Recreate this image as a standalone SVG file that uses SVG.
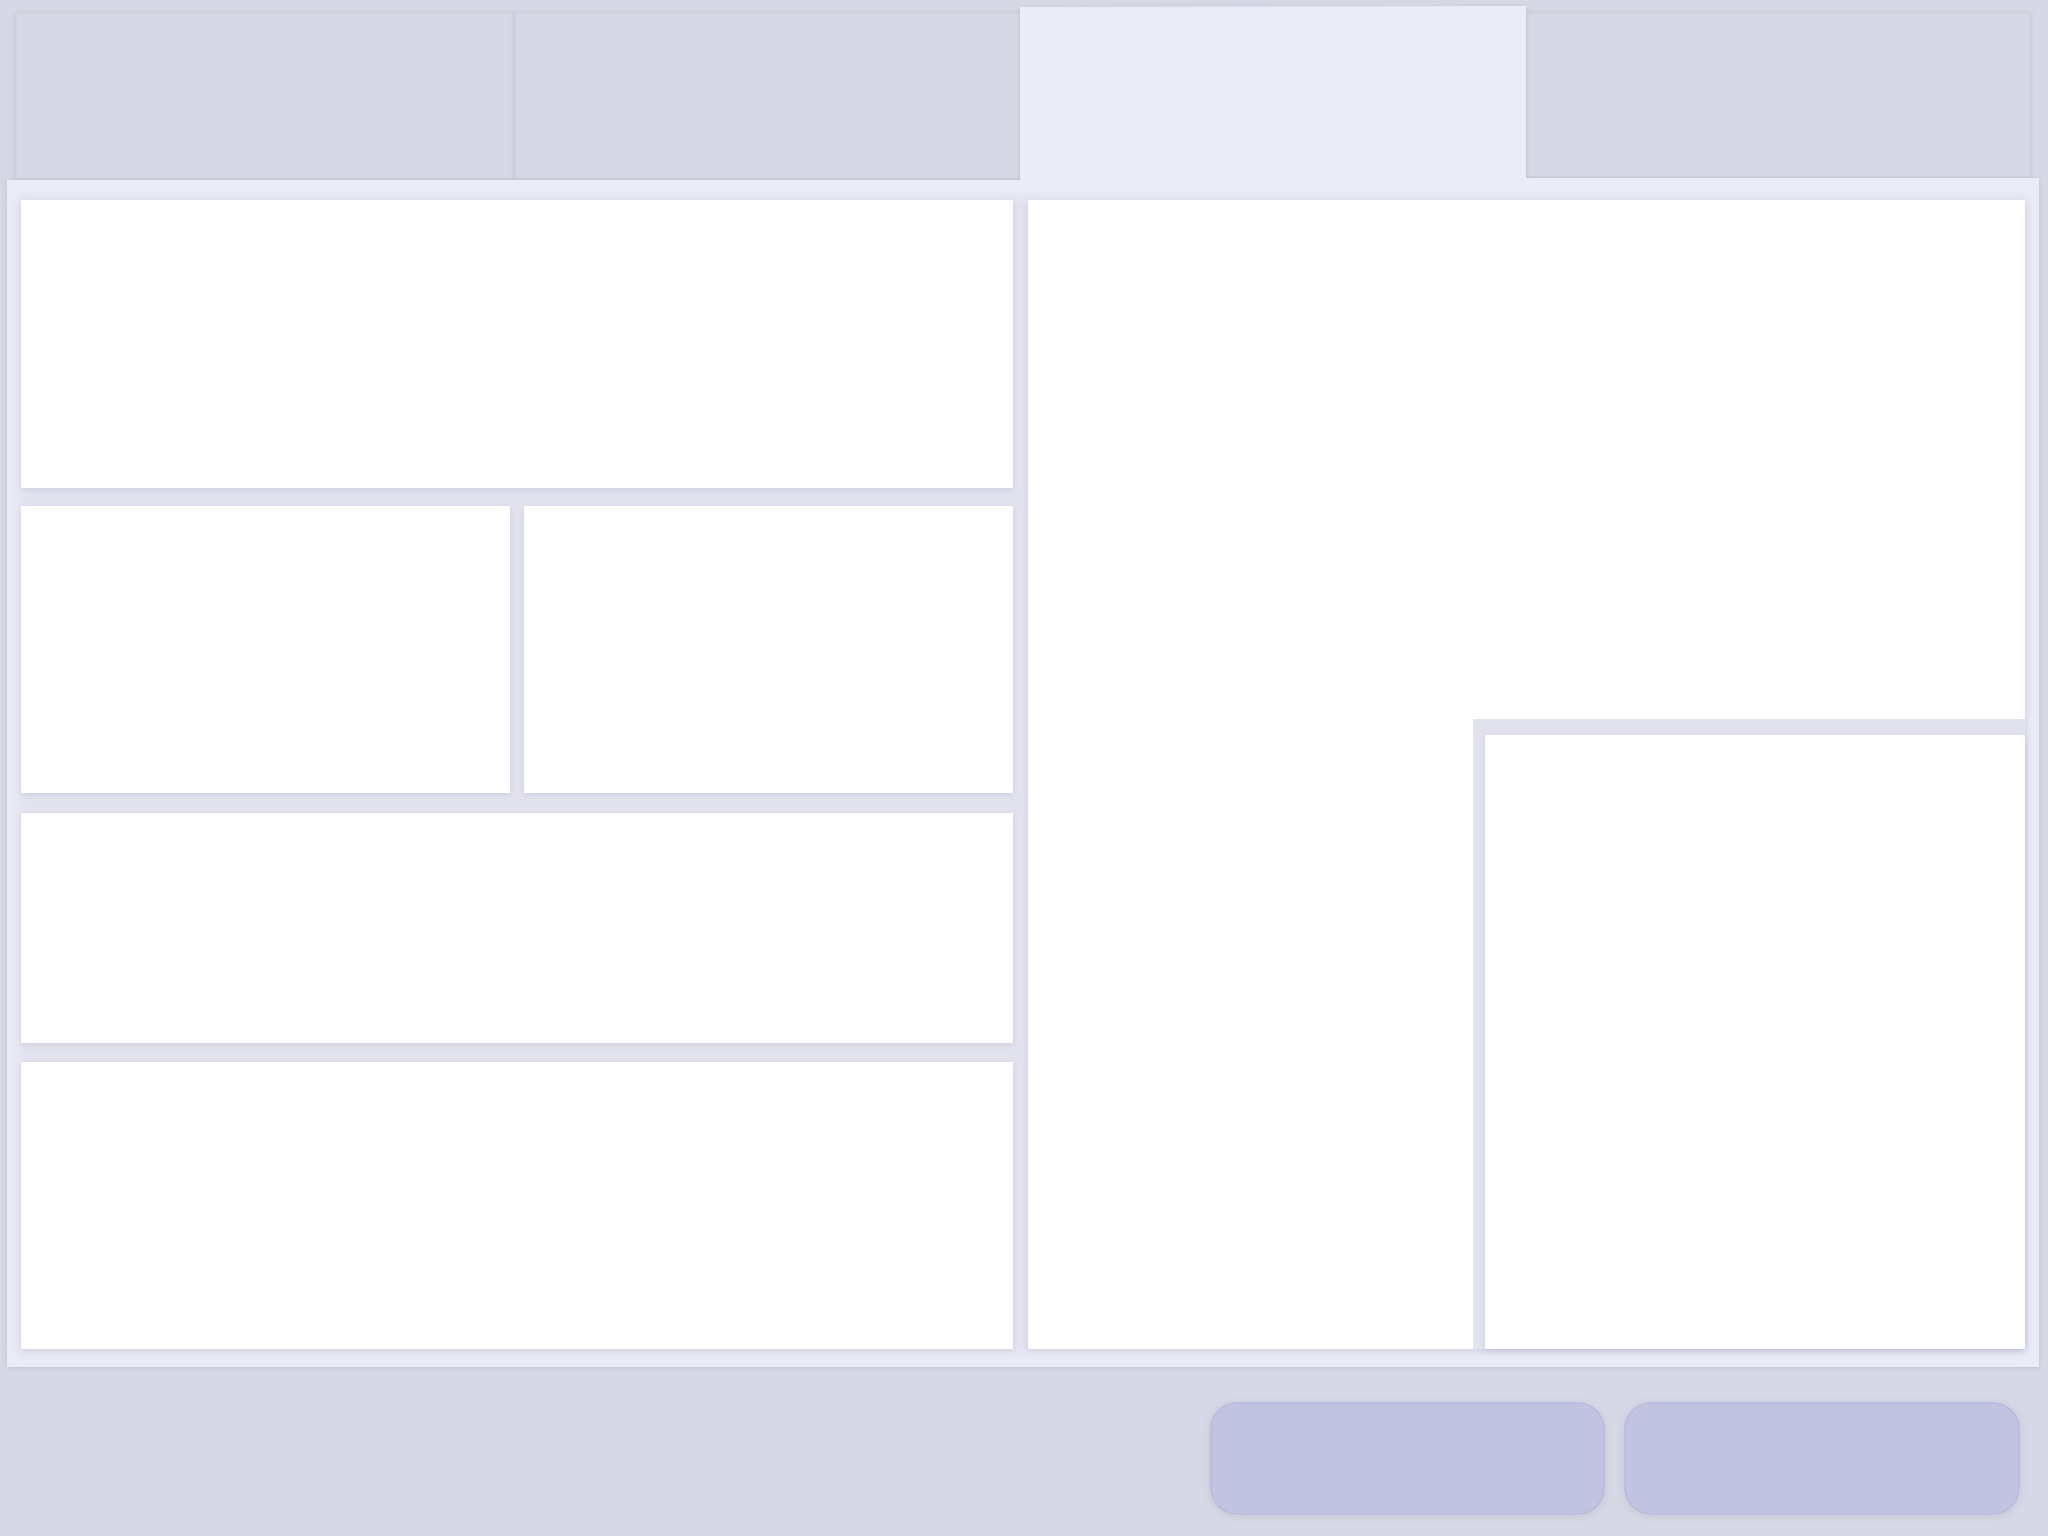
<svg xmlns="http://www.w3.org/2000/svg" width="2048" height="1536" viewBox="0 0 2048 1536">
  <defs>
    <filter id="soft" x="-5%" y="-5%" width="110%" height="110%">
      <feDropShadow dx="0" dy="1.5" stdDeviation="3" flood-color="#9a9cc0" flood-opacity="0.35"/>
    </filter>
    <filter id="tabsh" x="-5%" y="-10%" width="110%" height="120%">
      <feDropShadow dx="0" dy="1" stdDeviation="2.5" flood-color="#8f91aa" flood-opacity="0.35"/>
    </filter>
    <filter id="btnsh" x="-10%" y="-20%" width="120%" height="140%">
      <feDropShadow dx="0" dy="1" stdDeviation="4" flood-color="#9a9cb8" flood-opacity="0.35"/>
    </filter>
    <filter id="blur" x="-2%" y="-2%" width="104%" height="104%">
      <feGaussianBlur stdDeviation="6"/>
    </filter>
  </defs>
  <style>
    .tab { fill: #d6d8e5; stroke: #cfd1de; stroke-width: 1.5; }
    .panel { fill: #ebecf8; }
    .cell { fill: #ffffff; }
    .nest { fill: #e3e3ef; }
    .btn { fill: #c0c3e2; stroke: #b8bbda; stroke-width: 1.5; }
  </style>
  <rect x="0" y="0" width="2048" height="1536" fill="#d6d8e5"/>

  <g id="tabs">
    <rect id="tab1" class="tab" x="16" y="13" width="499" height="166" filter="url(#tabsh)"/>
    <rect id="tab2" class="tab" x="515" y="13" width="505" height="166" filter="url(#tabsh)"/>
    <rect id="tab4" class="tab" x="1526" y="13" width="504" height="164" filter="url(#tabsh)"/>
  </g>

  <g id="panel" filter="url(#tabsh)">
    <path class="panel" d="M7 180 L1020 180 L1020 7 L1526 6 L1526 178 L2039 178 L2039 1367 L7 1367 Z"/>
  </g>
  <rect id="content-area" x="18" y="196" width="2010" height="1158" fill="#e3e3ef" filter="url(#blur)"/>

  <g id="cells">
    <rect id="cell-r1" class="cell" x="21" y="200" width="992" height="288" filter="url(#soft)"/>
    <rect id="cell-r2a" class="cell" x="21" y="506" width="489" height="287" filter="url(#soft)"/>
    <rect id="cell-r2b" class="cell" x="524" y="506" width="489" height="287" filter="url(#soft)"/>
    <rect id="cell-r3" class="cell" x="21" y="813" width="992" height="230" filter="url(#soft)"/>
    <rect id="cell-r4" class="cell" x="21" y="1062" width="992" height="287" filter="url(#soft)"/>
    <rect id="cell-right" class="cell" x="1028" y="200" width="997" height="1149" filter="url(#soft)"/>
  </g>

  <g id="nested">
    <rect id="nest-container" class="nest" x="1473" y="719" width="552" height="630"/>
    <rect id="nest-cell" class="cell" x="1485" y="735" width="540" height="614" filter="url(#soft)"/>
  </g>

  <g id="buttons">
    <rect id="button1" class="btn" x="1211" y="1403" width="393" height="111" rx="26" ry="26" filter="url(#btnsh)"/>
    <rect id="button2" class="btn" x="1625" y="1403" width="394" height="111" rx="26" ry="26" filter="url(#btnsh)"/>
  </g>

  <g id="connectors"/>
</svg>
